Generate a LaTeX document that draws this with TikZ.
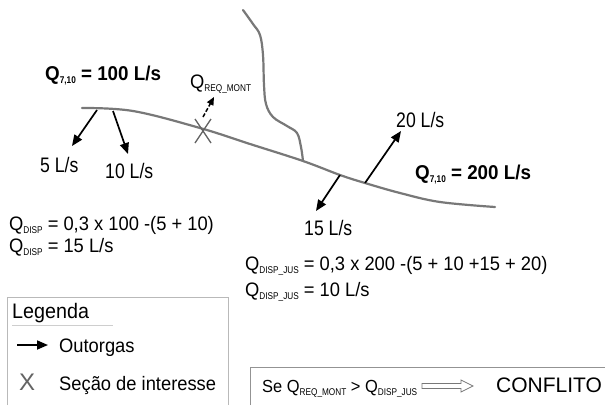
\documentclass[tikz,border=0pt]{standalone}
\usepackage{fontspec}
\setmainfont{Liberation Sans}
\newfontfamily\narrowA{Liberation Sans}[FakeStretch=0.84]
\newfontfamily\narrowB{Liberation Sans}[FakeStretch=0.94]
\usetikzlibrary{arrows.meta}
\definecolor{rivergray}{RGB}{120,120,120}
\definecolor{boxgray}{RGB}{185,185,185}
\definecolor{xgray}{RGB}{100,100,100}
\newcommand{\mysub}[1]{\raisebox{-3.5pt}{\narrowA\fontsize{9.8}{10}\selectfont #1}}
\tikzset{
  river/.style={draw=rivergray, line width=2.2pt, line cap=round},
  outorga/.style={-{Triangle[length=11pt,width=9pt]}, line width=1.7pt, black},
  reqarrow/.style={-{Triangle[length=8pt,width=7pt]}, line width=1.5pt, black, dash pattern=on 4pt off 2pt},
  lbl/.style={anchor=base west, inner sep=0pt, font=\narrowA\fontsize{21}{21}\selectfont},
  frm/.style={anchor=base west, inner sep=0pt, font=\narrowB\fontsize{19.5}{20}\selectfont},
  bigq/.style={anchor=base west, inner sep=0pt, font=\narrowB\fontsize{20}{20}\selectfont\bfseries},
  xmark/.style={draw=xgray, line width=1.3pt}
}
\begin{document}
\begin{tikzpicture}[x=1pt,y=-1pt]
\useasboundingbox (0,0) rectangle (605,405);
\fill[white] (0,0) rectangle (605,405);
% river
\draw[river] plot[smooth, tension=0.6] coordinates {(82,108) (133,111) (200,128) (250,144) (303,161) (340,175) (365,183) (400,193) (440,202) (495,207)};
% tributary
\draw[river] plot[smooth, tension=0.6] coordinates {(243,10) (253,24) (260,35) (263,55) (264,85) (266,104) (273,117) (287,126) (297,133) (301,147) (303,161)};
% outorga arrows
\coordinate (a5s) at (97,110); \coordinate (a5e) at (72,146);
\coordinate (a10s) at (113,111); \coordinate (a10e) at (128,154);
\coordinate (a15s) at (340,175); \coordinate (a15e) at (316,211);
\coordinate (a20s) at (365,183); \coordinate (a20e) at (401,131);
\draw[outorga] (a5s) -- (a5e);
\draw[outorga] (a10s) -- (a10e);
\draw[outorga] (a15s) -- (a15e);
\draw[outorga] (a20s) -- (a20e);
% section X
\coordinate (xa) at (195,119); \coordinate (xb) at (211,143);
\coordinate (xc) at (211,119); \coordinate (xd) at (195,143);
\draw[xmark] (xa) -- (xb); \draw[xmark] (xc) -- (xd);
\coordinate (rqs) at (203,117); \coordinate (rqe) at (214,97);
\draw[reqarrow] (rqs) -- (rqe);
% labels
\node[bigq] (q100) at (45,80) {Q\mysub{7,10} = 100 L/s};
\node[frm] (qreq) at (190,88) {Q\mysub{REQ\_MONT}};
\node[lbl] (l5) at (40,172) {5 L/s};
\node[lbl] (l10) at (105,178) {10 L/s};
\node[lbl] (l20) at (396,127) {20 L/s};
\node[lbl] (l15) at (304,235) {15 L/s};
\node[bigq] (q200) at (415,179) {Q\mysub{7,10} = 200 L/s};
\node[frm] (d1) at (9,230) {Q\mysub{DISP} = 0,3 x 100 -(5 + 10)};
\node[frm] (d2) at (9,252) {Q\mysub{DISP} = 15 L/s};
\node[frm] (j1) at (245,270) {Q\mysub{DISP\_JUS} = 0,3 x 200 -(5 + 10 +15 + 20)};
\node[frm] (j2) at (245,296) {Q\mysub{DISP\_JUS} = 10 L/s};
% legend
\draw[boxgray, line width=1pt] (7,405) -- (7,297) -- (228,297) -- (228,405);
\node[frm, font=\narrowB\fontsize{21}{21}\selectfont] (leg) at (12,318) {Legenda};
\draw[boxgray!70, line width=1pt] (12,325) -- (113,325);
\coordinate (la1) at (17,345); \coordinate (la2) at (48,345);
\draw[-{Triangle[length=11pt,width=9pt]}, line width=1.7pt] (la1) -- (la2);
\node[frm] (out) at (59,352) {Outorgas};
\node[anchor=base west, inner sep=0pt, text=xgray, font=\fontsize{24}{24}\selectfont] (lx) at (19,390) {X};
\node[frm] (sec) at (59,390) {Seção de interesse};
% conflict
\draw[rivergray!80, line width=1pt] (250,405) -- (250,367) -- (605,367);
\node[frm, font=\narrowB\fontsize{17.5}{18}\selectfont] (se) at (262,392) {Se Q\mysub{REQ\_MONT} > Q\mysub{DISP\_JUS}};
\draw[rivergray, line width=0.8pt] (422,383.5) -- (461,383.5) -- (461,380) -- (473,386) -- (461,392) -- (461,388.5) -- (422,388.5) -- cycle;
\node[anchor=base west, inner sep=0pt, font=\fontsize{21}{21}\selectfont] (conf) at (496,392) {CONFLITO};
\end{tikzpicture}
\end{document}
